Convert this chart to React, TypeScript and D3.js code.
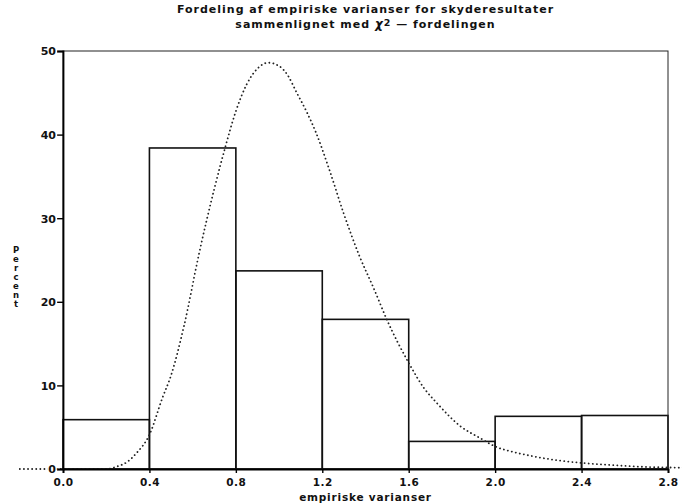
import React, { useEffect, useRef } from 'react'
import * as d3 from 'd3'

const titleLines = ['Fordeling af empiriske varianser for skyderesultater', 'sammenlignet med ']
const xLabel = 'empiriske varianser'
const yLabel = 'Percent'

const binEdges = [0, 0.4, 0.8, 1.2, 1.6, 2.0, 2.4, 2.8]
const binPercents = [5.9, 38.4, 23.7, 17.9, 3.3, 6.3, 6.4]

const xTicks = [0, 0.4, 0.8, 1.2, 1.6, 2.0, 2.4, 2.8]
const yTicks = [0, 10, 20, 30, 40, 50]

// chi-square curve
const curveX = [-0.2, 0.2, 0.25, 0.3, 0.34, 0.4, 0.46, 0.5, 0.56, 0.63, 0.7, 0.75, 0.8, 0.85, 0.9, 0.95, 1.0, 1.04, 1.08, 1.13, 1.17, 1.23, 1.3, 1.37, 1.44, 1.5, 1.6, 1.67, 1.73, 1.84, 1.93, 2.0, 2.09, 2.18, 2.27, 2.39, 2.52, 2.65, 2.9]
const curveY = [0, 0, 0.3, 0.9, 1.9, 4.1, 8.5, 11.2, 17.1, 25.8, 33.5, 38.4, 42.8, 46.0, 47.9, 48.6, 48.2, 47.1, 45.1, 42.6, 40.3, 36, 30.5, 25.6, 21.5, 17.8, 12.7, 9.7, 7.9, 5.1, 3.7, 2.7, 2.0, 1.5, 1.1, 0.75, 0.5, 0.3, 0.15]

const W = 682
const H = 503
const margin = { top: 51, right: 14, bottom: 34, left: 63 }
const font = '"DejaVu Sans", Verdana, sans-serif'

const App = () => {
  const ref = useRef<SVGSVGElement>(null)

  useEffect(() => {
    const svg = d3.select(ref.current)
    svg.selectAll('*').remove()

    const width = W - margin.left - margin.right
    const height = H - margin.top - margin.bottom

    const x = d3.scaleLinear().domain([0, 2.8]).range([margin.left, margin.left + width])
    const y = d3.scaleLinear().domain([0, 50]).range([margin.top + height, margin.top])

    svg // bars
      .append('g')
      .selectAll('rect')
      .data(binPercents)
      .join('rect')
      .attr('x', (d, i) => x(binEdges[i]))
      .attr('y', d => y(d))
      .attr('width', (d, i) => x(binEdges[i + 1]) - x(binEdges[i]))
      .attr('height', d => y(0) - y(d))
      .attr('fill', 'none')
      .attr('stroke', '#111')
      .attr('stroke-width', 1.6)

    svg // frame
      .append('rect')
      .attr('x', x(0))
      .attr('y', y(50))
      .attr('width', width)
      .attr('height', height)
      .attr('fill', 'none')
      .attr('stroke', '#222')
      .attr('stroke-width', 1)

    const line = d3
      .line<number>()
      .x(d => x(d))
      .y((d, i) => y(curveY[i]))
      .curve(d3.curveMonotoneX)

    svg // curve
      .append('path')
      .attr('d', line(curveX))
      .attr('fill', 'none')
      .attr('stroke', '#222')
      .attr('stroke-width', 1.8)
      .attr('stroke-dasharray', '0.1 4')
      .attr('stroke-linecap', 'round')

    svg // yaxis
      .append('g')
      .attr('transform', `translate(${margin.left}, 0)`)
      .call(d3.axisLeft(y).tickValues(yTicks).tickSize(6).tickFormat(d3.format('d')))
      .call(g => g.select('.domain').attr('stroke-width', 1.8))
      .call(g => g.selectAll('.tick line').attr('stroke-width', 1.4))
      .call(g =>
        g
          .selectAll('text')
          .attr('font-family', font)
          .attr('font-weight', 'bold')
          .attr('font-size', 11)
          .attr('dy', '0.35em')
          .attr('x', -7)
          .attr('fill', '#111')
          .attr('stroke', 'white')
          .attr('stroke-width', 3)
          .attr('paint-order', 'stroke'),
      )

    svg // xaxis
      .append('g')
      .attr('transform', `translate(0, ${margin.top + height})`)
      .call(d3.axisBottom(x).tickValues(xTicks).tickSize(4).tickFormat(d3.format('.1f')))
      .call(g => g.select('.domain').attr('stroke-width', 1.8))
      .call(g => g.selectAll('.tick line').attr('stroke-width', 1.4))
      .call(g =>
        g
          .selectAll('text')
          .attr('font-family', font)
          .attr('font-weight', 'bold')
          .attr('font-size', 10.5)
          .attr('y', 10)
          .attr('fill', '#111')
          .attr('letter-spacing', 0.5),
      )

    const cx = margin.left + width / 2

    const title = svg
      .append('g')
      .attr('font-family', font)
      .attr('font-weight', 'bold')
      .attr('font-size', 11)
      .attr('fill', '#111')
      .attr('text-anchor', 'middle')
      .attr('letter-spacing', 1)

    title.append('text').attr('x', cx).attr('y', 13).text(titleLines[0])
    const t2 = title.append('text').attr('x', cx).attr('y', 28)
    t2.append('tspan').text(titleLines[1])
    t2.append('tspan').attr('font-size', 12).attr('font-style', 'italic').text('\u03c7')
    t2.append('tspan').attr('dy', -2).attr('font-size', 9.5).text('2')
    t2.append('tspan').attr('dy', 2).text(' \u2014 fordelingen')

    svg // x label
      .append('text')
      .attr('x', cx)
      .attr('y', 501)
      .attr('text-anchor', 'middle')
      .attr('font-family', font)
      .attr('font-weight', 'bold')
      .attr('font-size', 10.5)
      .attr('letter-spacing', 0.8)
      .attr('fill', '#111')
      .text(xLabel)

    svg // y label, stacked letters
      .append('g')
      .attr('font-family', font)
      .attr('font-weight', 'bold')
      .attr('font-size', 8.5)
      .attr('fill', '#111')
      .attr('text-anchor', 'middle')
      .selectAll('text')
      .data(yLabel.split(''))
      .join('text')
      .attr('x', 16)
      .attr('y', (d, i) => 253 + i * 9)
      .text(d => d)
  }, [])

  return (
    <svg
      ref={ref}
      width={W}
      height={H}
      style={{ position: 'absolute', left: 0, top: 0, background: 'white' }}
    />
  )
}

export default App
